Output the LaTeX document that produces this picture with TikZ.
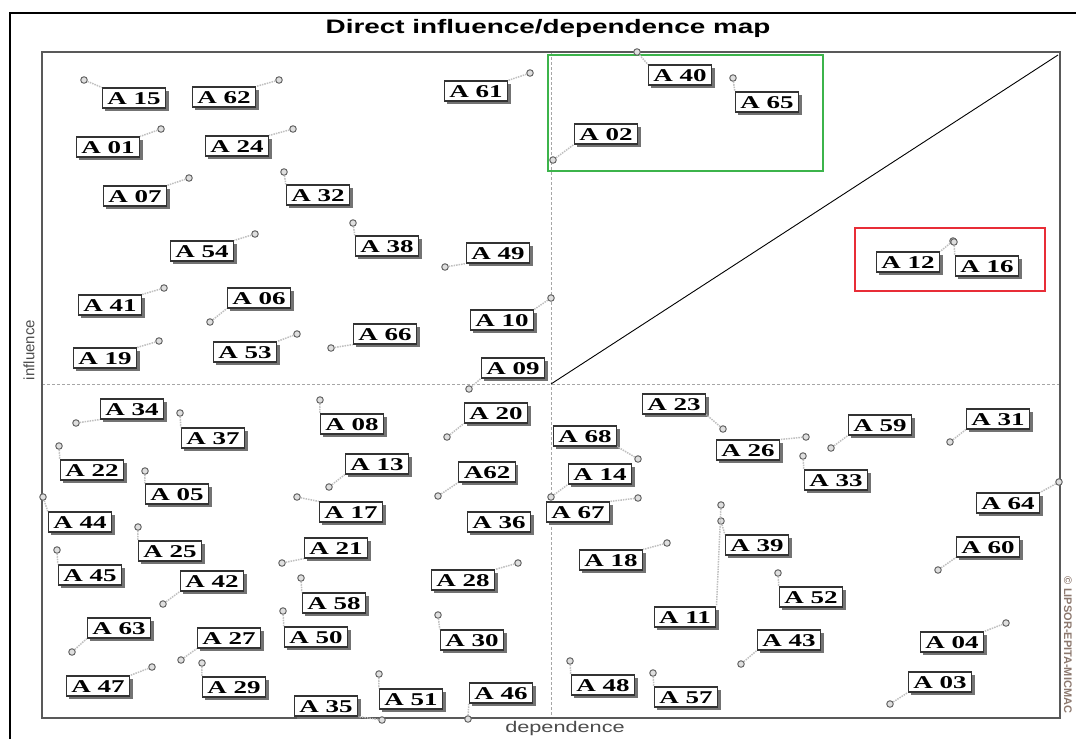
\documentclass[tikz,border=0pt]{standalone}
\usepackage{fontspec}
\newfontfamily\titlefont[FakeStretch=1.43]{Liberation Sans}
\newfontfamily\axisfont[FakeStretch=1.4]{Liberation Sans}
\newfontfamily\plainsans{Liberation Sans}
\newfontfamily\labfont[FakeStretch=1.5]{Liberation Serif}
\usetikzlibrary{shadows}

\definecolor{zonegreen}{RGB}{60,180,75}
\definecolor{zonered}{RGB}{232,45,55}
\definecolor{markbrown}{RGB}{140,120,110}

\tikzset{
  labbox/.style={draw=black!80, line width=1.2pt, fill=white, inner xsep=5pt, inner ysep=0pt,
    minimum height=20pt, text height=12.5pt, text depth=0pt,
    font=\labfont\bfseries\fontsize{18}{18}\selectfont,
    drop shadow={shadow xshift=3pt, shadow yshift=-3pt, fill=black!55, opacity=1}},
  varpt/.style={circle, draw=gray!80!black, fill=gray!25, line width=1pt, inner sep=0pt, minimum size=6.5pt},
  varlink/.style={draw=gray!50, line width=1.5pt, densely dotted},
  midline/.style={draw=gray!70, line width=0.8pt, dash pattern=on 3pt off 2pt}
}

\begin{document}
\begin{tikzpicture}[x=1pt,y=-1pt]
\useasboundingbox (0,0) rectangle (1076,739);
\coordinate (TL) at (42,52); \coordinate (BR) at (1060,718);
\coordinate (O) at (551,384); \coordinate (C) at (1058,55);
\draw[black,line width=1.6pt] (10,739) -- (10,13) -- (1076,13);
\node[font=\titlefont\bfseries\fontsize{19.5}{20}\selectfont] (title) at (548,28) {Direct influence/dependence map};
\draw[midline] (551,52) -- (551,718);
\draw[midline] (42,384) -- (1060,384);
\draw[black!65,line width=1.8pt] (TL) rectangle (BR);
\draw[black,line width=0.9pt] (O) -- (C);
\draw[zonegreen,line width=1.3pt] (548,55) rectangle (823,171);
\draw[zonered,line width=1.3pt] (855,228) rectangle (1045,291);
\node[rotate=90,black!70,font=\plainsans\fontsize{15}{15}\selectfont] (infl) at (29,350) {influence};
\node[black!70,font=\axisfont\fontsize{15.5}{15.5}\selectfont] (dep) at (565,728) {dependence};
\node[rotate=-90,markbrown,font=\plainsans\bfseries\fontsize{11}{11}\selectfont] (copy) at (1068,645) {© LIPSOR-EPITA-MICMAC};
\foreach \i/\txt/\bx/\by/\mx/\my/\anc in {
  15/A 15/134/98/84/80/north west, 62/A 62/224/97/279/80/north east,
  61/A 61/476/91/530/73/north east, 01/A 01/108/147/161/129/north east,
  24/A 24/237/146/293/129/north east, 07/A 07/135/196/189/178/north east,
  32/A 32/318/195/284/172/north west, 54/A 54/202/251/255/234/north east,
  38/A 38/387/246/353/223/north west, 49/A 49/498/253/445/267/south west,
  41/A 41/110/305/164/288/north east, 06/A 06/259/298/210/322/south west,
  66/A 66/385/334/331/348/south west, 10/A 10/502/320/551/298/north east,
  19/A 19/105/358/159/341/north east, 53/A 53/245/352/297/334/north east,
  09/A 09/513/368/469/389/south west,
  40/A 40/680/75/637/52/north west, 65/A 65/767/102/733/78/north west,
  02/A 02/606/134/553/160/south west,
  12/A 12/908/262/953/241/north east, 16/A 16/987/266/954/242/north west,
  34/A 34/132/409/76/423/south west, 37/A 37/213/438/180/413/north west,
  08/A 08/352/424/320/400/north west, 20/A 20/496/413/447/437/south west,
  22/A 22/92/470/59/446/north west, 13/A 13/377/464/329/487/south west,
  62b/A62/487/472/438/496/south west, 05/A 05/177/494/145/471/north west,
  17/A 17/351/512/297/497/north west, 44/A 44/80/522/43/497/north west,
  25/A 25/170/551/138/527/north west, 21/A 21/336/548/282/563/south west,
  45/A 45/90/575/57/550/north west, 42/A 42/212/581/163/604/south west,
  28/A 28/463/580/518/563/north east, 58/A 58/334/603/301/578/north west,
  63/A 63/119/628/72/652/south west, 27/A 27/229/638/181/660/south west,
  50/A 50/316/637/283/611/north west, 30/A 30/472/640/438/615/north west,
  47/A 47/98/686/152/667/north east, 29/A 29/234/687/202/663/north west,
  35/A 35/326/706/382/720/south east, 51/A 51/411/699/379/674/north west,
  46/A 46/501/693/468/719/south west,
  23/A 23/674/404/723/429/south east, 68/A 68/585/436/638/459/south east,
  26/A 26/748/450/806/437/north east, 59/A 59/880/425/831/448/south west,
  31/A 31/998/419/950/442/south west, 14/A 14/600/474/551/497/south west,
  33/A 33/836/480/803/456/north west, 67/A 67/578/512/638/498/north east,
  64/A 64/1008/503/1059/482/north east, 39/A 39/757/545/721/521/north west,
  11/A 11/685/617/721/505/north east, 18/A 18/611/560/667/543/north east,
  60/A 60/988/547/938/570/south west, 52/A 52/811/597/778/573/north west,
  43/A 43/789/640/741/664/south west, 04/A 04/952/642/1006/623/north east,
  48/A 48/603/685/570/661/north west, 57/A 57/686/697/653/673/north west,
  03/A 03/940/682/890/704/south west}{
  \node[labbox] (a\i) at (\bx,\by) {\txt};
  \node[varpt] (p\i) at (\mx,\my) {};
  \draw[varlink] (p\i) -- (a\i.\anc);
}
\node[labbox] (a36) at (499,522) {A 36};
\end{tikzpicture}
\end{document}
